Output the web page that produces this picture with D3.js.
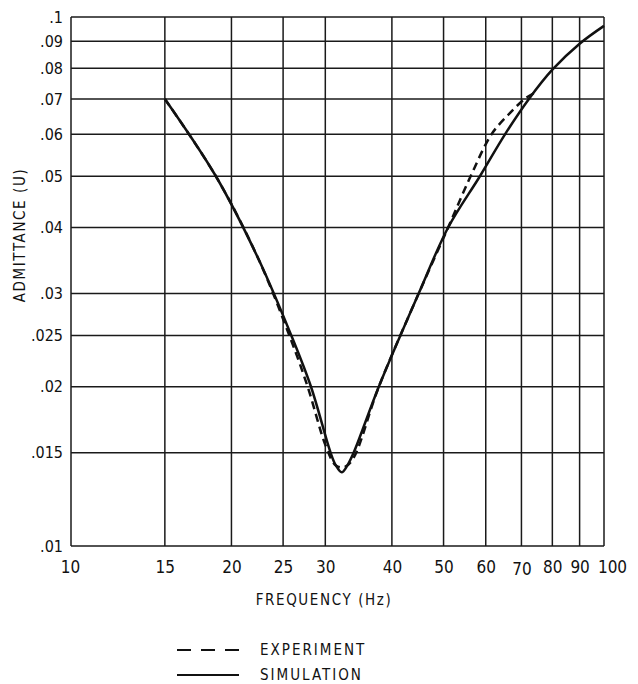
<!DOCTYPE html>
<html>
<head>
<meta charset="utf-8">
<script src="https://cdn.jsdelivr.net/npm/d3@7"></script>
<style>
  html, body { margin: 0; padding: 0; background: #fff; }
  svg { display: block; }
  .lbl { font-family: "Liberation Sans Narrow", "DejaVu Sans Condensed", "Arial Narrow", sans-serif; fill: #111; }
</style>
</head>
<body>
<svg id="chart" width="638" height="684"></svg>
<script>
// ---- data ----
const xTicks = [10, 15, 20, 25, 30, 40, 50, 60, 70, 80, 90, 100];
const yTicks = [0.01, 0.015, 0.02, 0.025, 0.03, 0.04, 0.05, 0.06, 0.07, 0.08, 0.09, 0.1];
const yTickLabels = [".01", ".015", ".02", ".025", ".03", ".04", ".05", ".06", ".07", ".08", ".09", ".1"];

const simFreq = [15, 18.7, 22.5, 25.9, 28.2, 30.7, 31.4, 32.2, 33.0, 33.9, 37.8, 44.9, 51.0, 58.5, 65.2, 72.3, 80, 90, 100];
const simVal  = [0.070, 0.050, 0.0348, 0.025, 0.020, 0.015, 0.0142, 0.01378, 0.0142, 0.015, 0.020, 0.030, 0.040, 0.050, 0.060, 0.070, 0.0795, 0.089, 0.0962];

const expFreq = [15, 18.7, 22.5, 25.8, 27.8, 30.1, 31.4, 32.6, 33.8, 37.8, 44.9, 51.0, 56.2, 61.5, 66.0, 71.0, 74.8];
const expVal  = [0.070, 0.050, 0.0348, 0.0247, 0.020, 0.0154, 0.0142, 0.0141, 0.0146, 0.020, 0.030, 0.040, 0.050, 0.060, 0.0652, 0.070, 0.0723];

const legendLabels = ["EXPERIMENT", "SIMULATION"];

// ---- layout ----
const svg = d3.select("#chart");
const L = 71, R = 604, T = 17, B = 546;
const x = d3.scaleLog().domain([10, 100]).range([L, R]);
const y = d3.scaleLog().domain([0.01, 0.1]).range([B, T]);

const ink = "#1a1a1a";

// grid
const grid = svg.append("g");
grid.selectAll("line.v").data(xTicks).join("line")
  .attr("x1", d => x(d)).attr("x2", d => x(d))
  .attr("y1", T).attr("y2", B)
  .attr("stroke", ink).attr("stroke-width", 1.5);
grid.selectAll("line.h").data(yTicks).join("line")
  .attr("x1", L).attr("x2", R)
  .attr("y1", d => y(d)).attr("y2", d => y(d))
  .attr("stroke", ink).attr("stroke-width", 1.5);

// axes labels
const xAxis = d3.axisBottom(x).tickValues(xTicks).tickFormat(d => String(d)).tickSize(0).tickPadding(15);
const gx = svg.append("g").attr("transform", `translate(0,${B})`).call(xAxis);
gx.select(".domain").remove();
gx.selectAll("text").attr("class", "lbl").style("font-size", "17px").attr("fill", "#111")
  .attr("dx", d => d === 100 ? 8 : (d === 10 ? -1 : 0))
  .attr("dy", d => d === 70 ? "0.83em" : "0.71em");

const yAxis = d3.axisLeft(y).tickValues(yTicks).tickFormat((d, i) => yTickLabels[i]).tickSize(0).tickPadding(8);
const gy = svg.append("g").attr("transform", `translate(${L},0)`).call(yAxis);
gy.select(".domain").remove();
gy.selectAll("text").attr("class", "lbl").style("font-size", "16px").attr("fill", "#111");

// curves
const line = d3.line().x(d => x(d[0])).y(d => y(d[1])).curve(d3.curveCatmullRom.alpha(0.5));
const simPts = simFreq.map((f, i) => [f, simVal[i]]);
const expPts = expFreq.map((f, i) => [f, expVal[i]]);

svg.append("path").attr("d", line(simPts))
  .attr("fill", "none").attr("stroke", "#111").attr("stroke-width", 2.5);
svg.append("path").attr("d", line(expPts))
  .attr("fill", "none").attr("stroke", "#111").attr("stroke-width", 2.5)
  .attr("stroke-dasharray", "8,5");

// axis titles
svg.append("text").attr("class", "lbl")
  .attr("x", 324).attr("y", 605).attr("text-anchor", "middle")
  .style("font-size", "15px").style("letter-spacing", "1.6px")
  .text("FREQUENCY (Hz)");
svg.append("text").attr("class", "lbl")
  .attr("transform", "translate(25,235) rotate(-90)").attr("text-anchor", "middle")
  .style("font-size", "15px").style("letter-spacing", "1.6px")
  .text("ADMITTANCE (U)");

// legend
const lg = svg.append("g");
lg.append("line").attr("x1", 177).attr("x2", 239).attr("y1", 650).attr("y2", 650)
  .attr("stroke", "#111").attr("stroke-width", 2).attr("stroke-dasharray", "14,10");
lg.append("line").attr("x1", 177).attr("x2", 239).attr("y1", 675).attr("y2", 675)
  .attr("stroke", "#111").attr("stroke-width", 2);
lg.selectAll("text").data(legendLabels).join("text").attr("class", "lbl")
  .attr("x", 260).attr("y", (d, i) => 655 + i * 25)
  .style("font-size", "15px").style("letter-spacing", "2px")
  .text(d => d);
</script>
</body>
</html>
